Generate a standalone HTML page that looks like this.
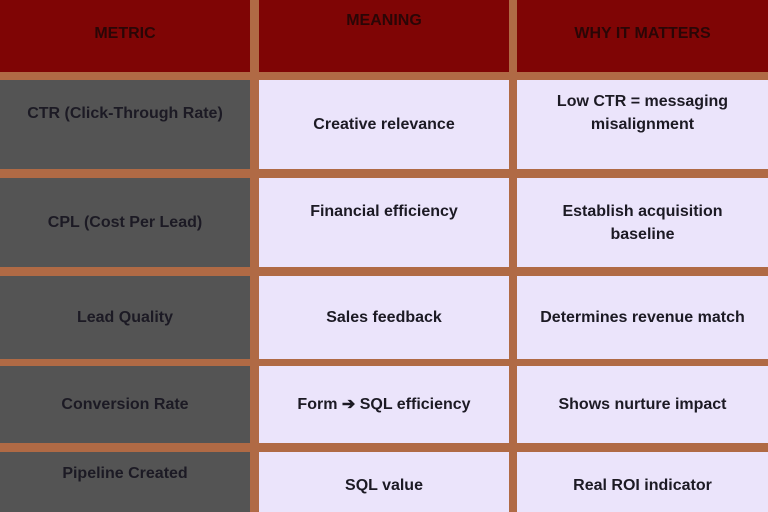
<!DOCTYPE html>
<html><head><style>
body{margin:0;width:768px;height:512px;background:#b06a45;position:relative;overflow:hidden;font-family:"Liberation Sans",sans-serif;font-weight:bold;}
div.c{position:absolute;display:flex;align-items:center;justify-content:center;text-align:center;font-size:16px;color:#1c1a24;line-height:23px;box-sizing:border-box;}
.h{background:#7f0505;color:#2a0606 !important;font-size:16px !important;}
.g{background:#545454;}
.l{background:#ebe4fb;}
</style></head><body>
<div class="c h" style="left:0;top:0;width:250px;height:72px;padding-bottom:6px">METRIC</div>
<div class="c h" style="left:259px;top:0;width:250px;height:72px;align-items:flex-start;padding-top:9px">MEANING</div>
<div class="c h" style="left:517px;top:0;width:251px;height:72px;padding-bottom:6px">WHY IT MATTERS</div>

<div class="c g" style="left:0;top:80px;width:250px;height:89px;align-items:flex-start;padding-top:22px">CTR (Click-Through Rate)</div>
<div class="c l" style="left:259px;top:80px;width:250px;height:89px">Creative relevance</div>
<div class="c l" style="left:517px;top:80px;width:251px;height:89px;align-items:flex-start;padding-top:10px">Low CTR = messaging<br>misalignment</div>

<div class="c g" style="left:0;top:178px;width:250px;height:89px">CPL (Cost Per Lead)</div>
<div class="c l" style="left:259px;top:178px;width:250px;height:89px;align-items:flex-start;padding-top:22px">Financial efficiency</div>
<div class="c l" style="left:517px;top:178px;width:251px;height:89px;align-items:flex-start;padding-top:22px">Establish acquisition<br>baseline</div>

<div class="c g" style="left:0;top:276px;width:250px;height:83px">Lead Quality</div>
<div class="c l" style="left:259px;top:276px;width:250px;height:83px">Sales feedback</div>
<div class="c l" style="left:517px;top:276px;width:251px;height:83px">Determines revenue match</div>

<div class="c g" style="left:0;top:366px;width:250px;height:77px">Conversion Rate</div>
<div class="c l" style="left:259px;top:366px;width:250px;height:77px">Form ➔ SQL efficiency</div>
<div class="c l" style="left:517px;top:366px;width:251px;height:77px">Shows nurture impact</div>

<div class="c g" style="left:0;top:452px;width:250px;height:60px;align-items:flex-start;padding-top:10px">Pipeline Created</div>
<div class="c l" style="left:259px;top:452px;width:250px;height:60px;padding-top:6px">SQL value</div>
<div class="c l" style="left:517px;top:452px;width:251px;height:60px;padding-top:6px">Real ROI indicator</div>
</body></html>
